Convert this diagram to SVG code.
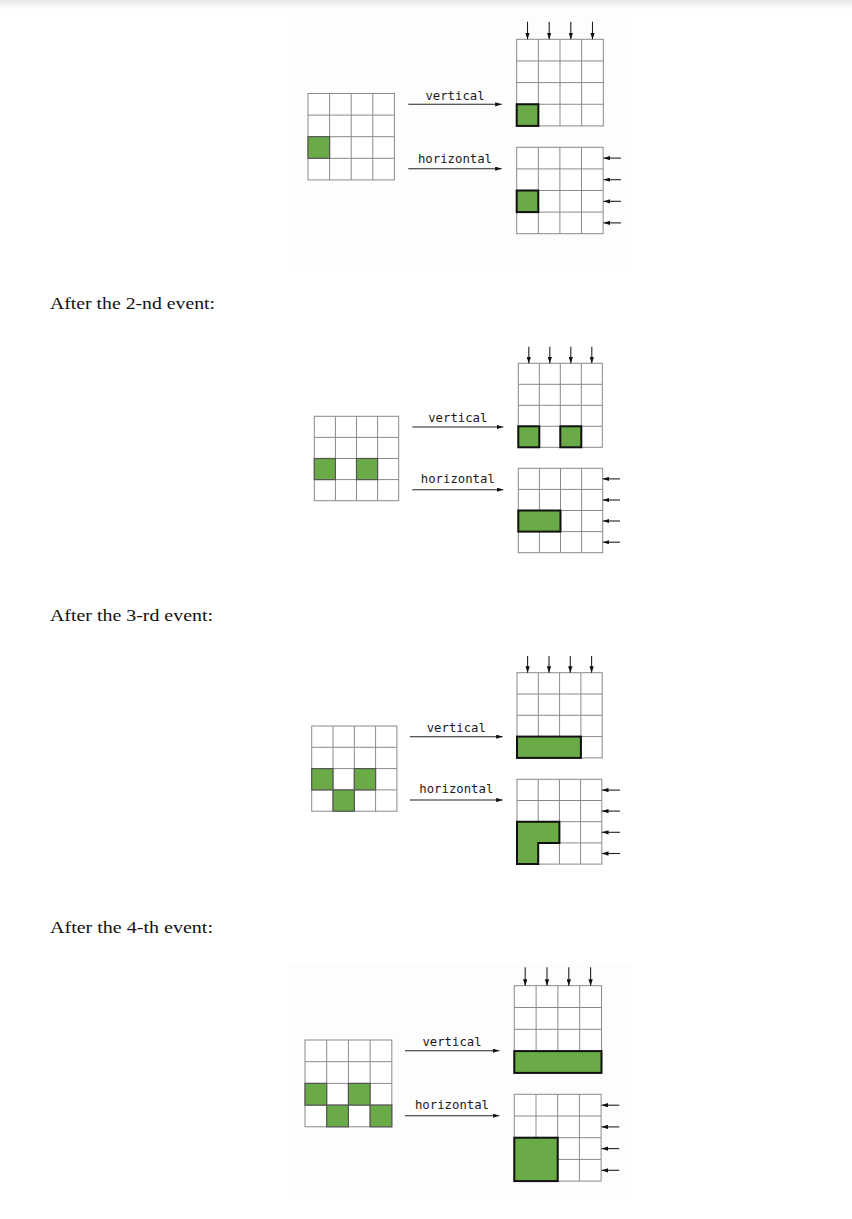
<svg xmlns="http://www.w3.org/2000/svg" width="852" height="1219" viewBox="0 0 852 1219">
<defs>
<linearGradient id="topshade" x1="0" y1="0" x2="0" y2="1">
<stop offset="0" stop-color="#e6e6e6"/>
<stop offset="1" stop-color="#ffffff"/>
</linearGradient>
<marker id="ah" viewBox="0 0 6 4" refX="6" refY="2" markerWidth="6.5" markerHeight="4.4" markerUnits="userSpaceOnUse" orient="auto">
<path d="M0,0 L6,2 L0,4 z" fill="#111"/>
</marker>
<style>
.frame{fill:#ffffff;stroke:#8a8a8a;stroke-width:1}
.inner{fill:none;stroke:#8a8a8a;stroke-width:1}
.cell{fill:#6aab47;stroke:#555;stroke-width:1.2}
.blk{fill:#6aab47;stroke:#111;stroke-width:2}
.arr{stroke:#222;stroke-width:1.1;fill:none;marker-end:url(#ah)}
.lbl{font-family:"DejaVu Sans Mono","Liberation Mono",monospace;font-size:12.3px;fill:#1a1a1a;text-anchor:middle}
.cap{font-family:"Liberation Serif","DejaVu Serif",serif;font-size:17px;fill:#111}
.panel{fill:#fdfdfd}
</style>
</defs>
<rect x="0" y="0" width="852" height="1219" fill="#ffffff"/>
<rect x="0" y="0" width="852" height="9" fill="url(#topshade)"/>
<rect class="panel" x="288" y="12" width="344" height="253"/>
<rect class="panel" x="288" y="963" width="344" height="237"/>

<text class="cap" x="50" y="308.5" textLength="165" lengthAdjust="spacingAndGlyphs">After the 2-nd event:</text>
<text class="cap" x="50" y="620.5" textLength="163" lengthAdjust="spacingAndGlyphs">After the 3-rd event:</text>
<text class="cap" x="50" y="933" textLength="163" lengthAdjust="spacingAndGlyphs">After the 4-th event:</text>

<!-- Panel 1 -->
<g id="p1-left">
<rect class="frame" x="308" y="93.5" width="86.4" height="86.4"/>
<path class="inner" d="M329.6 93.5V179.9M351.2 93.5V179.9M372.8 93.5V179.9M308 115.1H394.4M308 136.7H394.4M308 158.3H394.4"/>
<rect class="cell" x="308" y="136.7" width="21.6" height="21.6"/>
</g>
<g id="p1-vertical">
<rect class="frame" x="516.7" y="39.3" width="86.6" height="86.6"/>
<path class="inner" d="M538.35 39.3V125.9M560 39.3V125.9M581.65 39.3V125.9M516.7 60.95H603.3M516.7 82.6H603.3M516.7 104.25H603.3"/>
<rect class="blk" x="516.7" y="104.25" width="21.65" height="21.65"/>
</g>
<g id="p1-horizontal">
<rect class="frame" x="516.7" y="147.3" width="86.4" height="86.4"/>
<path class="inner" d="M538.3 147.3V233.7M559.9 147.3V233.7M581.5 147.3V233.7M516.7 168.9H603.1M516.7 190.5H603.1M516.7 212.1H603.1"/>
<rect class="blk" x="516.7" y="190.5" width="21.6" height="21.6"/>
</g>
<g id="p1-labels">
<text class="lbl" x="455" y="99.5">vertical</text>
<text class="lbl" x="455" y="162.5">horizontal</text>
</g>

<!-- Panel 2 -->
<g id="p2-left">
<rect class="frame" x="314.3" y="416.3" width="84.4" height="84.4"/>
<path class="inner" d="M335.4 416.3V500.7M356.5 416.3V500.7M377.6 416.3V500.7M314.3 437.4H398.7M314.3 458.5H398.7M314.3 479.6H398.7"/>
<rect class="cell" x="314.3" y="458.5" width="21.1" height="21.1"/>
<rect class="cell" x="356.5" y="458.5" width="21.1" height="21.1"/>
</g>
<g id="p2-vertical">
<rect class="frame" x="518.3" y="363.3" width="84" height="84"/>
<path class="inner" d="M539.3 363.3V447.3M560.3 363.3V447.3M581.3 363.3V447.3M518.3 384.3H602.3M518.3 405.3H602.3M518.3 426.3H602.3"/>
<rect class="blk" x="518.3" y="426.3" width="21" height="21"/>
<rect class="blk" x="560.3" y="426.3" width="21" height="21"/>
</g>
<g id="p2-horizontal">
<rect class="frame" x="518.3" y="468.3" width="84.4" height="84.4"/>
<path class="inner" d="M539.4 468.3V552.7M560.5 468.3V552.7M581.6 468.3V552.7M518.3 489.4H602.7M518.3 510.5H602.7M518.3 531.6H602.7"/>
<rect class="blk" x="518.3" y="510.5" width="42.2" height="21.1"/>
</g>
<g id="p2-labels">
<text class="lbl" x="457.8" y="421.7">vertical</text>
<text class="lbl" x="457.8" y="482.7">horizontal</text>
</g>

<!-- Panel 3 -->
<g id="p3-left">
<rect class="frame" x="311.7" y="726" width="85.2" height="85.2"/>
<path class="inner" d="M333 726V811.2M354.3 726V811.2M375.6 726V811.2M311.7 747.3H396.9M311.7 768.6H396.9M311.7 789.9H396.9"/>
<rect class="cell" x="311.7" y="768.6" width="21.3" height="21.3"/>
<rect class="cell" x="354.3" y="768.6" width="21.3" height="21.3"/>
<rect class="cell" x="333" y="789.9" width="21.3" height="21.3"/>
</g>
<g id="p3-vertical">
<rect class="frame" x="517" y="672.7" width="85.2" height="85.2"/>
<path class="inner" d="M538.3 672.7V757.9M559.6 672.7V757.9M580.9 672.7V757.9M517 694H602.2M517 715.3H602.2M517 736.6H602.2"/>
<rect class="blk" x="517" y="736.6" width="63.9" height="21.3"/>
</g>
<g id="p3-horizontal">
<rect class="frame" x="517" y="779.3" width="84.8" height="84.8"/>
<path class="inner" d="M538.2 779.3V864.1M559.4 779.3V864.1M580.6 779.3V864.1M517 800.5H601.8M517 821.7H601.8M517 842.9H601.8"/>
<path class="blk" d="M517 821.7H559.4V842.9H538.2V864.1H517Z"/>
</g>
<g id="p3-labels">
<text class="lbl" x="456.3" y="731.7">vertical</text>
<text class="lbl" x="456.3" y="793.3">horizontal</text>
</g>

<!-- Panel 4 -->
<g id="p4-left">
<rect class="frame" x="305" y="1040" width="86.8" height="86.8"/>
<path class="inner" d="M326.7 1040V1126.8M348.4 1040V1126.8M370.1 1040V1126.8M305 1061.7H391.8M305 1083.4H391.8M305 1105.1H391.8"/>
<rect class="cell" x="305" y="1083.4" width="21.7" height="21.7"/>
<rect class="cell" x="348.4" y="1083.4" width="21.7" height="21.7"/>
<rect class="cell" x="326.7" y="1105.1" width="21.7" height="21.7"/>
<rect class="cell" x="370.1" y="1105.1" width="21.7" height="21.7"/>
</g>
<g id="p4-vertical">
<rect class="frame" x="514.3" y="985.7" width="87.2" height="87.2"/>
<path class="inner" d="M536.1 985.7V1072.9M557.9 985.7V1072.9M579.7 985.7V1072.9M514.3 1007.5H601.5M514.3 1029.3H601.5M514.3 1051.1H601.5"/>
<rect class="blk" x="514.3" y="1051.1" width="87.2" height="21.8"/>
</g>
<g id="p4-horizontal">
<rect class="frame" x="514.3" y="1094.3" width="86.8" height="86.8"/>
<path class="inner" d="M536 1094.3V1181.1M557.7 1094.3V1181.1M579.4 1094.3V1181.1M514.3 1116H601.1M514.3 1137.7H601.1M514.3 1159.4H601.1"/>
<rect class="blk" x="514.3" y="1137.7" width="43.4" height="43.4"/>
</g>
<g id="p4-labels">
<text class="lbl" x="452" y="1045.7">vertical</text>
<text class="lbl" x="452" y="1109">horizontal</text>
</g>

<g id="connectors">
<!-- panel 1 -->
<path class="arr" d="M408.3 104.3H501.7"/>
<path class="arr" d="M408.3 168.7H501.7"/>
<path class="arr" d="M527.5 21.7V39.3"/>
<path class="arr" d="M549.2 21.7V39.3"/>
<path class="arr" d="M570.8 21.7V39.3"/>
<path class="arr" d="M592.5 21.7V39.3"/>
<path class="arr" d="M621 158.1H603.5"/>
<path class="arr" d="M621 179.7H603.5"/>
<path class="arr" d="M621 201.3H603.5"/>
<path class="arr" d="M621 222.9H603.5"/>
<!-- panel 2 -->
<path class="arr" d="M412.3 427H503.3"/>
<path class="arr" d="M412.3 489.7H503.3"/>
<path class="arr" d="M528.8 346.7V363.3"/>
<path class="arr" d="M549.8 346.7V363.3"/>
<path class="arr" d="M570.8 346.7V363.3"/>
<path class="arr" d="M591.8 346.7V363.3"/>
<path class="arr" d="M620 478.9H602.8"/>
<path class="arr" d="M620 500H602.8"/>
<path class="arr" d="M620 521H602.8"/>
<path class="arr" d="M620 542.2H602.8"/>
<!-- panel 3 -->
<path class="arr" d="M410 736.7H502.7"/>
<path class="arr" d="M410 800H502.7"/>
<path class="arr" d="M527.6 656V672.7"/>
<path class="arr" d="M549 656V672.7"/>
<path class="arr" d="M570.3 656V672.7"/>
<path class="arr" d="M591.6 656V672.7"/>
<path class="arr" d="M620 790.1H602"/>
<path class="arr" d="M620 811.1H602"/>
<path class="arr" d="M620 832.3H602"/>
<path class="arr" d="M620 853.5H602"/>
<!-- panel 4 -->
<path class="arr" d="M405 1050.7H499.3"/>
<path class="arr" d="M405 1115.7H499.3"/>
<path class="arr" d="M525.2 967.3V985.7"/>
<path class="arr" d="M547 967.3V985.7"/>
<path class="arr" d="M568.8 967.3V985.7"/>
<path class="arr" d="M590.6 967.3V985.7"/>
<path class="arr" d="M619.3 1105.2H601.5"/>
<path class="arr" d="M619.3 1126.9H601.5"/>
<path class="arr" d="M619.3 1148.6H601.5"/>
<path class="arr" d="M619.3 1170.3H601.5"/>
</g>
</svg>
